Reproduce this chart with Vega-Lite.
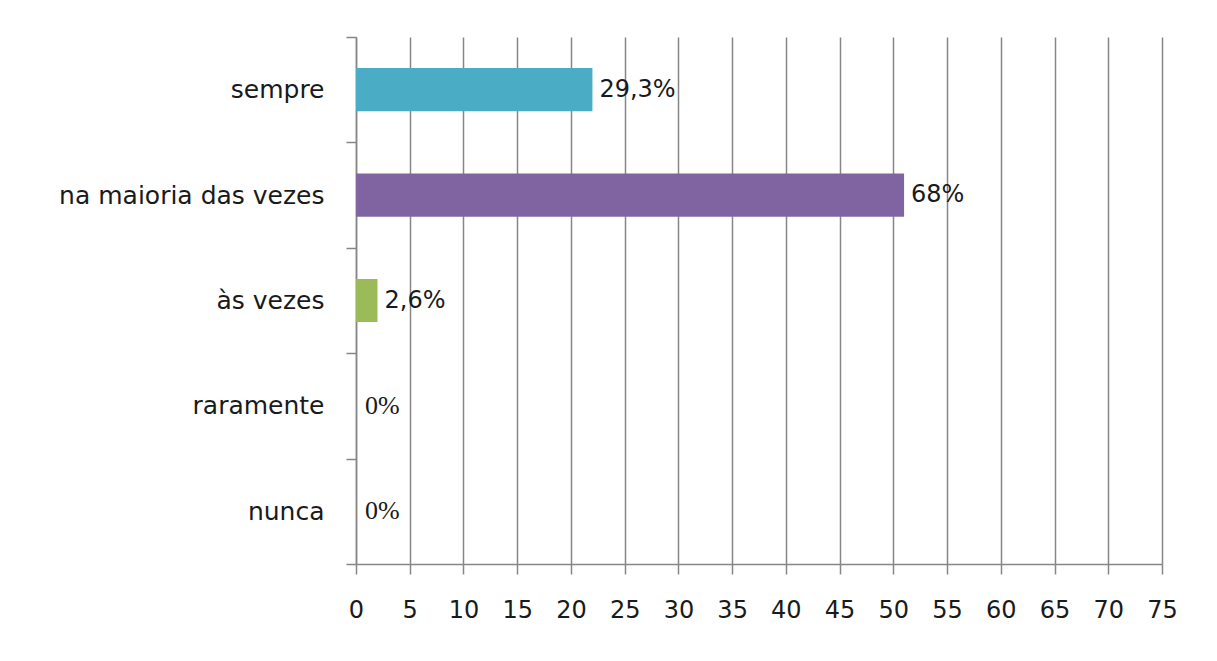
{
  "$schema": "https://vega.github.io/schema/vega-lite/v6.json",
  "width": 806,
  "height": 527,
  "autosize": "none",
  "padding": {"left": 356, "top": 37, "right": 55, "bottom": 97},
  "background": "white",
  "config": {
    "view": {"stroke": null},
    "font": "DejaVu Sans"
  },
  "data": {
    "values": [
      {"categoria": "sempre", "valor": 22, "rotulo": "29,3%", "cor": "sempre"},
      {"categoria": "na maioria das vezes", "valor": 51, "rotulo": "68%", "cor": "na maioria das vezes"},
      {"categoria": "às vezes", "valor": 2, "rotulo": "2,6%", "cor": "às vezes"},
      {"categoria": "raramente", "valor": 0, "rotulo": "0%", "cor": "raramente"},
      {"categoria": "nunca", "valor": 0, "rotulo": "0%", "cor": "nunca"}
    ]
  },
  "encoding": {
    "y": {
      "field": "categoria",
      "type": "nominal",
      "sort": ["sempre", "na maioria das vezes", "às vezes", "raramente", "nunca"],
      "scale": {"paddingInner": 0, "paddingOuter": 0},
      "axis": {
        "title": null,
        "tickBand": "extent",
        "domainColor": "#868686",
        "domainWidth": 1.5,
        "tickColor": "#868686",
        "tickWidth": 1.5,
        "tickSize": 10,
        "labelFontSize": 25,
        "labelColor": "#1a1a1a",
        "labelPadding": 22,
        "labelLimit": 0,
        "labelFont": "DejaVu Sans"
      }
    },
    "x": {
      "field": "valor",
      "type": "quantitative",
      "scale": {"domain": [0, 75], "nice": false},
      "axis": {
        "title": null,
        "values": [0, 5, 10, 15, 20, 25, 30, 35, 40, 45, 50, 55, 60, 65, 70, 75],
        "grid": true,
        "gridColor": "#868686",
        "gridWidth": 1.5,
        "domainColor": "#868686",
        "domainWidth": 1.5,
        "tickColor": "#868686",
        "tickWidth": 1.5,
        "tickSize": 10,
        "labelFontSize": 24,
        "labelColor": "#1a1a1a",
        "labelPadding": 24,
        "labelFont": "DejaVu Sans",
        "labelFlush": false
      }
    }
  },
  "layer": [
    {
      "mark": {"type": "bar", "height": {"band": 0.41}},
      "encoding": {
        "color": {
          "field": "cor",
          "type": "nominal",
          "scale": {
            "domain": ["sempre", "na maioria das vezes", "às vezes", "raramente", "nunca"],
            "range": ["#4BACC6", "#8064A2", "#9BBB59", "#C0504D", "#4F81BD"]
          },
          "legend": null
        }
      }
    },
    {
      "transform": [{"filter": "datum.valor > 0"}],
      "mark": {"type": "text", "align": "left", "dx": 7, "fontSize": 24, "font": "DejaVu Sans", "color": "#1a1a1a"},
      "encoding": {"text": {"field": "rotulo"}}
    },
    {
      "transform": [{"filter": "datum.valor == 0"}],
      "mark": {"type": "text", "align": "left", "dx": 9, "fontSize": 26, "font": "Liberation Serif", "color": "#1a1a1a"},
      "encoding": {"text": {"field": "rotulo"}}
    }
  ]
}
